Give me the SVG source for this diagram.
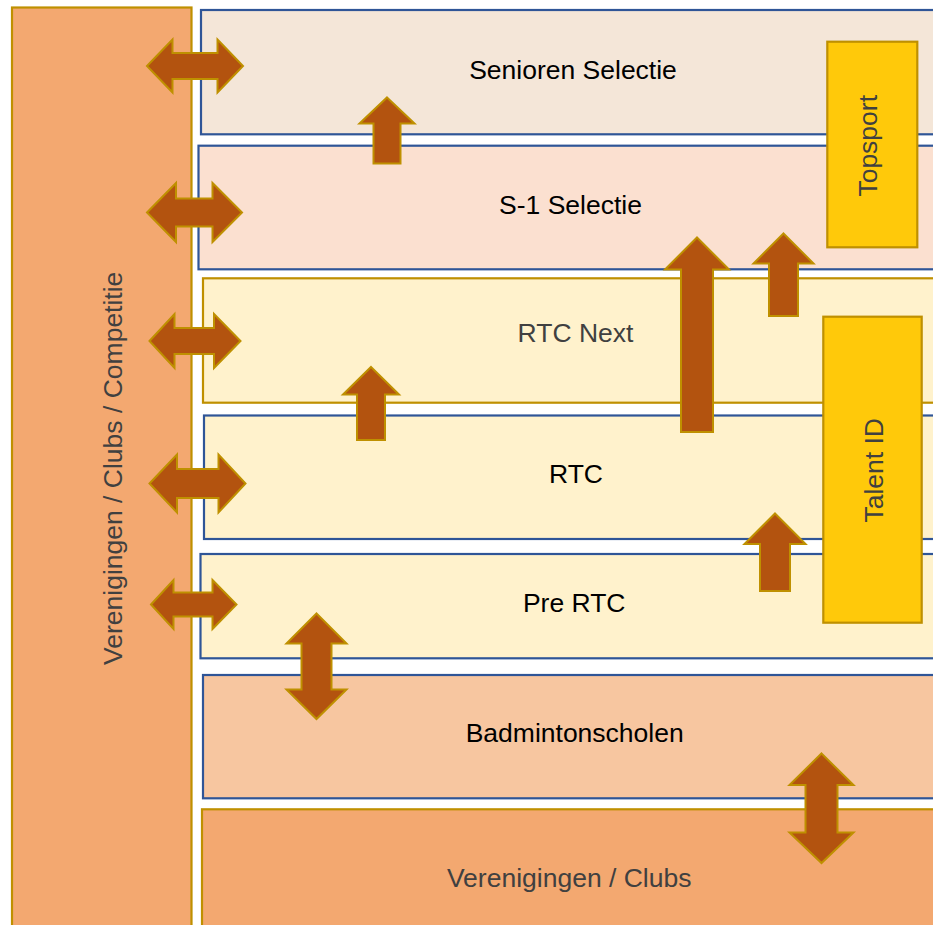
<svg xmlns="http://www.w3.org/2000/svg" width="933" height="925" viewBox="0 0 933 925">
<style>
.t{font-family:"Liberation Sans",Arial,sans-serif;font-size:26.5px;text-anchor:middle}
.dk{fill:#000}
.gr{fill:#404040}
.bb{stroke:#2F5597;stroke-width:2.2}
.gb{stroke:#BF9000;stroke-width:2.2}
.ar{fill:#B3530F;stroke:#BF9000;stroke-width:2;stroke-linejoin:miter}
</style>
<rect width="933" height="925" fill="#fff"/>
<g id="band-senioren">
<rect x="201" y="10" width="745" height="124.3" fill="#F4E6D8" class="bb"/>
<text class="t dk" x="573" y="78.5">Senioren Selectie</text>
</g>
<g id="band-s1">
<rect x="198.5" y="145.7" width="748" height="123.6" fill="#FBE0D0" class="bb"/>
<text class="t dk" x="570.5" y="213.5">S-1 Selectie</text>
</g>
<g id="band-rtcnext">
<rect x="203" y="278.3" width="743" height="124.4" fill="#FFF2CC" class="gb"/>
<text class="t gr" x="575.5" y="342.3">RTC Next</text>
</g>
<g id="band-rtc">
<rect x="204" y="415.5" width="742" height="123.5" fill="#FFF2CC" class="bb"/>
<text class="t dk" x="576" y="483.3">RTC</text>
</g>
<g id="band-prertc">
<rect x="200.5" y="554" width="745" height="104.3" fill="#FFF2CC" class="bb"/>
<text class="t dk" x="574.2" y="612.3">Pre RTC</text>
</g>
<g id="band-badminton">
<rect x="203" y="675" width="743" height="123.3" fill="#F7C6A0" class="bb"/>
<text class="t dk" x="574.7" y="741.7">Badmintonscholen</text>
</g>
<g id="band-clubs">
<rect x="202" y="809.3" width="744" height="130" fill="#F3A870" class="gb"/>
<text class="t gr" x="569.2" y="886.7">Verenigingen / Clubs</text>
</g>
<g id="column-competitie">
<rect x="12" y="7.5" width="179.5" height="930" fill="#F3A870" class="gb"/>
<text class="t gr" transform="translate(121.7,468.3) rotate(-90)" x="0" y="0">Verenigingen / Clubs / Competitie</text>
</g>
<g id="topsport">
<rect x="827.3" y="41.7" width="90" height="205.6" fill="#FFC90A" class="gb"/>
<text class="t gr" transform="translate(877.3,145.8) rotate(-90)" x="0" y="0">Topsport</text>
</g>
<g id="talent-id">
<rect x="823.3" y="316.7" width="98.4" height="306" fill="#FFC90A" class="gb"/>
<text class="t gr" transform="translate(883.3,470.3) rotate(-90)" x="0" y="0">Talent ID</text>
</g>
<g id="connectors">
<polygon class="ar" points="147,66 172.5,39.5 172.5,53 217.5,53 217.5,39.5 243,66 217.5,92.5 217.5,79 172.5,79 172.5,92.5"/>
<polygon class="ar" points="147,212.5 176,183 176,198.5 212.5,198.5 212.5,183 242,212.5 212.5,242 212.5,226.5 176,226.5 176,242"/>
<polygon class="ar" points="149.5,341 174.5,314 174.5,328 214,328 214,314 240.5,341 214,368 214,354 174.5,354 174.5,368"/>
<polygon class="ar" points="149.5,483.5 177,454.5 177,469 218.5,469 218.5,454.5 245.5,483.5 218.5,512.5 218.5,498 177,498 177,512.5"/>
<polygon class="ar" points="151,604.5 173.5,580 173.5,592.5 212.5,592.5 212.5,580 236.5,604.5 212.5,629 212.5,616.5 173.5,616.5 173.5,629"/>
<polygon class="ar" points="316.5,613.5 346.5,643.5 331.5,643.5 331.5,689.5 346.5,689.5 316.5,719 286.5,689.5 301.5,689.5 301.5,643.5 286.5,643.5"/>
<polygon class="ar" points="821.5,753.5 853.5,785 837.5,785 837.5,832.5 853.5,832.5 821.5,863 789.5,832.5 805.5,832.5 805.5,785 789.5,785"/>
<polygon class="ar" points="387,97.5 414.5,123.5 400.5,123.5 400.5,163.5 373.5,163.5 373.5,123.5 359.5,123.5"/>
<polygon class="ar" points="371,367 399,394.5 385,394.5 385,440 357,440 357,394.5 343,394.5"/>
<polygon class="ar" points="697,237.5 729,269.5 713,269.5 713,432 681,432 681,269.5 665,269.5"/>
<polygon class="ar" points="783.5,233.5 813.5,263.5 798,263.5 798,316 769,316 769,263.5 753.5,263.5"/>
<polygon class="ar" points="775,513.5 805.5,544 790,544 790,591 760,591 760,544 744.5,544"/>
</g>
</svg>
